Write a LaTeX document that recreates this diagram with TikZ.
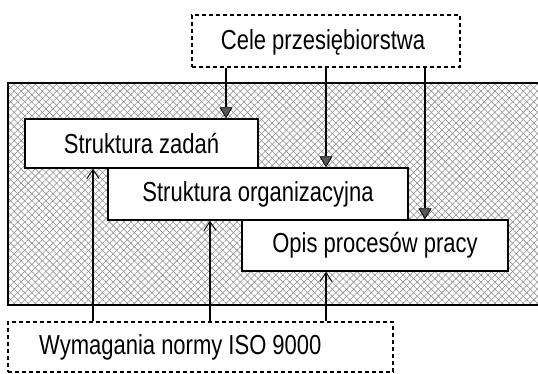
\documentclass[tikz,border=0pt]{standalone}
\usepackage{fontspec}
\setmainfont{Liberation Sans}
\usetikzlibrary{arrows.meta,patterns.meta}

\newcommand{\narrowtxt}[1]{\scalebox{0.8}[1]{#1}}

\tikzset{
  box/.style={draw=black, line width=1.4pt, fill=white, inner sep=0pt},
  dbox/.style={draw=black, line width=1.3pt, dash pattern=on 4pt off 3pt, fill=white, inner sep=0pt},
  lbl/.style={font=\fontsize{27.5}{27.5}\selectfont, inner sep=0pt},
  goal/.style={line width=1.4pt, -{Triangle[width=13pt,length=11pt,fill=black!65,line width=0.8pt]}},
  norm/.style={line width=1.4pt, -{Straight Barb[width=12pt,length=9pt,line width=0.9pt]}},
}

\begin{document}
\begin{tikzpicture}[x=1pt, y=-1pt]
  \useasboundingbox (0,0) rectangle (538,374);

  % hatched background field
  \fill[white] (8,83) rectangle (539,305);
  \fill[pattern={Lines[angle=45,distance=5pt,line width=0.55pt]}, pattern color=black!45] (8,83) rectangle (539,305);
  \fill[pattern={Lines[angle=-45,distance=5pt,line width=0.55pt]}, pattern color=black!45] (8,83) rectangle (539,305);
  \draw[line width=1.4pt] (540,83) -- (8,83) -- (8,305) -- (540,305);

  % source boxes (dashed)
  \node[dbox, minimum width=268pt, minimum height=52pt] (cele) at (326,41) {};
  \node[lbl] (celetxt) at (323,42) {\narrowtxt{Cele przesiębiorstwa}};

  \node[dbox, minimum width=385pt, minimum height=50pt] (wym) at (200.5,347) {};
  \node[lbl, anchor=west] (wymtxt) at (39,347) {\narrowtxt{Wymagania normy ISO 9000}};

  % structure boxes
  \node[box, minimum width=233pt, minimum height=49pt] (zad) at (141.5,143.5) {};
  \node[lbl] (zadtxt) at (zad.center) {\narrowtxt{Struktura zadań}};

  \node[box, minimum width=300pt, minimum height=52pt] (org) at (258,194) {};
  \node[lbl] (orgtxt) at (org.center) {\narrowtxt{Struktura organizacyjna}};

  \node[box, minimum width=266pt, minimum height=51pt] (opis) at (375,245.5) {};
  \node[lbl] (opistxt) at (opis.center) {\narrowtxt{Opis procesów pracy}};

  % goals feed down into each structure
  \draw[goal] (cele.south -| 226,0) -- (zad.north -| 226,0);
  \draw[goal] (cele.south -| 326,0) -- (org.north -| 326,0);
  \draw[goal] (cele.south -| 425,0) -- (opis.north -| 425,0);

  % standard requirements feed up into each structure
  \draw[norm] (wym.north -| 93,0) -- (zad.south -| 93,0);
  \draw[norm] (wym.north -| 210,0) -- (org.south -| 210,0);
  \draw[norm] (wym.north -| 326,0) -- (opis.south -| 326,0);
\end{tikzpicture}
\end{document}
